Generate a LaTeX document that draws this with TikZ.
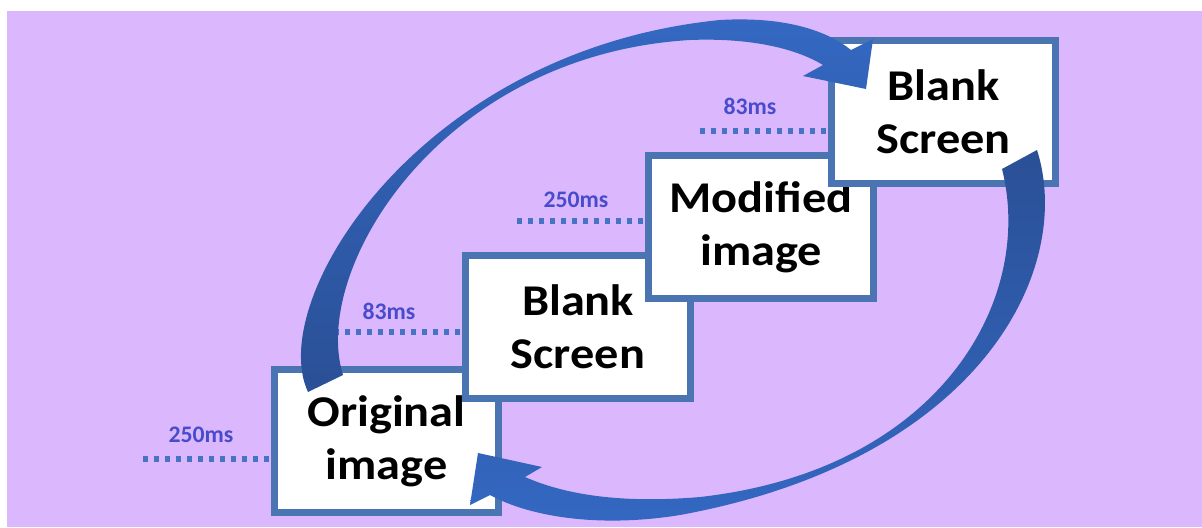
\documentclass[tikz,border=0pt]{standalone}
\usepackage{fontspec}
\setmainfont{Carlito}
\newfontfamily\boxfont{Carlito}[FakeStretch=1.1]
\definecolor{bgpurple}{RGB}{219,184,253}
\definecolor{boxblue}{RGB}{74,117,178}
\definecolor{dotblue}{RGB}{70,115,196}
\definecolor{labelblue}{RGB}{72,76,204}
\definecolor{arrowdark}{RGB}{42,80,150}
\definecolor{arrowlight}{RGB}{52,104,194}

\begin{document}
\begin{tikzpicture}[x=0.02cm,y=-0.02cm,
	screen/.style={draw=boxblue,line width=0.14cm,fill=white,minimum width=4.5cm,minimum height=2.86cm,inner sep=0pt,align=center,font=\boxfont\fontsize{25}{30}\selectfont\bfseries},
	timelabel/.style={text=labelblue,inner sep=0pt,font=\fontsize{13.5}{16}\selectfont\bfseries},
	dotline/.style={draw=dotblue,line width=0.11cm,dash pattern=on 0.1cm off 0.12cm}]
	\useasboundingbox (0,0) rectangle (1202,527);
	\fill[bgpurple] (7,11) rectangle (1202,527);
	\node[screen] (orig) at (386.5,441) {Original\\image};
	\node[screen] (blank1) at (578,327) {Blank\\Screen};
	\node[screen] (modif) at (761,227) {Modified\\image};
	\node[screen] (blank2) at (943.5,112) {Blank\\Screen};
	\coordinate (d1) at (143,459);
	\coordinate (d2) at (334,332);
	\coordinate (d3) at (517,221);
	\coordinate (d4) at (700,131);
	\draw[dotline] (d1) -- (d1 -| orig.west);
	\draw[dotline] (d2) -- (d2 -| blank1.west);
	\draw[dotline] (d3) -- (d3 -| modif.west);
	\draw[dotline] (d4) -- (d4 -| blank2.west);
	\node[timelabel] (t1) at (201,435) {250ms};
	\node[timelabel] (t2) at (389,311) {83ms};
	\node[timelabel] (t3) at (576,200) {250ms};
	\node[timelabel] (t4) at (750,106) {83ms};
	\shade[bottom color=arrowdark,top color=arrowlight] (308,392) .. controls (265,300) and (420,50) .. (720,20) .. controls (790,16) and (830,33) .. (851,50) -- (873,39) -- (866,89) -- (803,76) -- (823,65) .. controls (790,45) and (740,38) .. (690,40) .. controls (440,55) and (310,270) .. (343,375) -- cycle;
	\shade[top color=arrowdark,bottom color=arrowlight] (1037,150) .. controls (1075,270) and (980,460) .. (680,515) .. controls (600,528) and (530,517) .. (490,495) -- (470,505) -- (478,453) -- (542,467) -- (525,477) .. controls (570,497) and (630,503) .. (700,497) .. controls (940,470) and (1035,300) .. (1002,169) -- cycle;
\end{tikzpicture}
\end{document}
